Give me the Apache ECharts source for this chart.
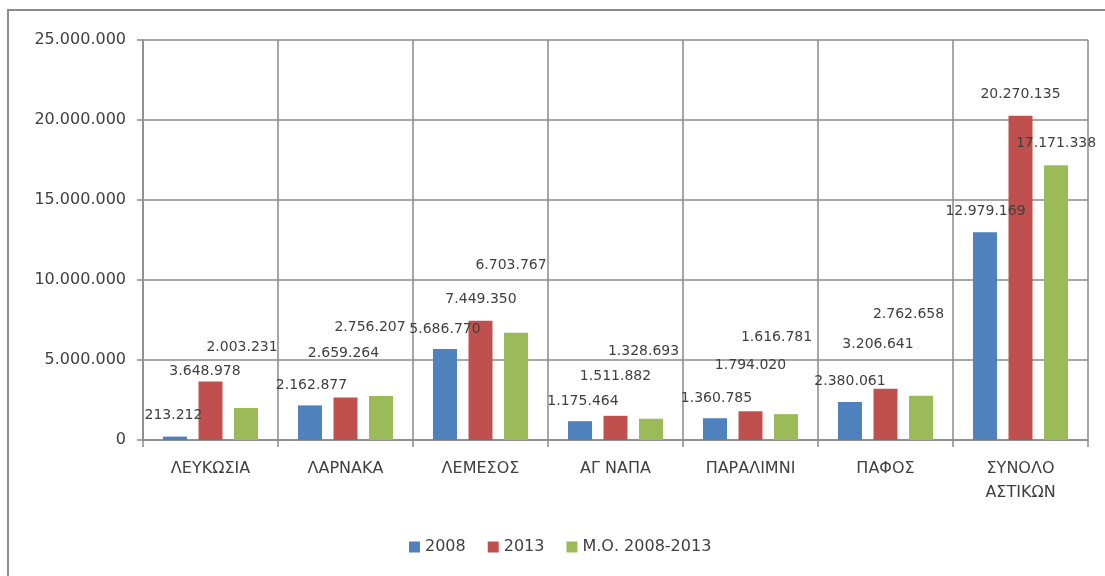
<!DOCTYPE html>
<html>
<head>
<meta charset="utf-8">
<script src="https://cdn.jsdelivr.net/npm/echarts@6/dist/echarts.min.js"></script>
<style>
html,body{margin:0;padding:0;background:#fff;}
#chart{width:1105px;height:576px;}
</style>
</head>
<body>
<div id="chart"></div>
<script>
var categories = ['ΛΕΥΚΩΣΙΑ', 'ΛΑΡΝΑΚΑ', 'ΛΕΜΕΣΟΣ', 'ΑΓ ΝΑΠΑ', 'ΠΑΡΑΛΙΜΝΙ', 'ΠΑΦΟΣ', 'ΣΥΝΟΛΟ\nΑΣΤΙΚΩΝ'];
var seriesNames = ['2008', '2013', 'Μ.Ο. 2008-2013'];
var values2008 = [213212, 2162877, 5686770, 1175464, 1360785, 2380061, 12979169];
var values2013 = [3648978, 2659264, 7449350, 1511882, 1794020, 3206641, 20270135];
var valuesAvg = [2003231, 2756207, 6703767, 1328693, 1616781, 2762658, 17171338];
var yTicks = [0, 5000000, 10000000, 15000000, 20000000, 25000000];

// label placement (style only): offsets of each data label from its bar top
var labelOffsets2008 = [[-1.5,-21],[1.5,-20],[0,-20],[3,-19.5],[1.5,-20],[0,-21],[0.5,-20.6]];
var labelOffsets2013 = [[-5.5,-10],[-2,-44],[0.5,-21],[0,-39],[0,-46],[-7.5,-44],[0,-21]];
var labelOffsetsAvg = [[-4,-61],[-11,-69],[-5,-67],[-7.5,-67],[-9.5,-77],[-12.5,-81.5],[0,-22]];

function fmt(v){
  return String(Math.round(v)).replace(/\B(?=(\d{3})+(?!\d))/g, '.');
}

var FONT = 'DejaVu Sans';
var TXT = '#404040';
var GRID = '#8a8a8a';

function makeSeries(name, vals, offs, color){
  return {
    name: name,
    type: 'bar',
    barWidth: 24,
    barGap: '48%',
    itemStyle: {color: color},
    data: vals.map(function(v, i){
      return {
        value: v,
        label: {offset: offs[i]}
      };
    }),
    label: {
      show: true,
      position: 'top',
      distance: 0,
      align: 'center',
      verticalAlign: 'middle',
      fontFamily: FONT,
      fontSize: 14,
      color: TXT,
      formatter: function(p){ return fmt(p.value); }
    }
  };
}

var chart = echarts.init(document.getElementById('chart'), null, {renderer: 'canvas'});
chart.setOption({
  animation: false,
  backgroundColor: '#fff',
  graphic: [{
    type: 'rect',
    shape: {x: 8, y: 10, width: 1120, height: 600},
    style: {fill: 'none', stroke: '#8c8c8c', lineWidth: 2},
    silent: true,
    z: -1
  }],
  grid: {left: 143, right: 17, top: 40, bottom: 136, containLabel: false},
  legend: {
    left: 404,
    top: 534,
    icon: 'rect',
    itemWidth: 11,
    itemHeight: 11,
    itemGap: 22,
    textStyle: {fontFamily: FONT, fontSize: 16, color: TXT},
    data: seriesNames
  },
  xAxis: {
    type: 'category',
    data: categories,
    boundaryGap: true,
    axisLine: {show: true, lineStyle: {color: GRID, width: 1.5}},
    axisTick: {show: true, length: 7, alignWithLabel: false, lineStyle: {color: GRID, width: 1.5}},
    splitLine: {show: true, lineStyle: {color: GRID, width: 1.5}},
    axisLabel: {
      interval: 0,
      margin: 17,
      lineHeight: 24,
      fontFamily: FONT,
      fontSize: 16,
      color: TXT
    }
  },
  yAxis: {
    type: 'value',
    min: yTicks[0],
    max: yTicks[yTicks.length - 1],
    interval: yTicks[1] - yTicks[0],
    axisLine: {show: true, lineStyle: {color: GRID, width: 1.5}},
    axisTick: {show: true, length: 6, lineStyle: {color: GRID, width: 1.5}},
    splitLine: {show: true, lineStyle: {color: GRID, width: 1.5}},
    axisLabel: {
      margin: 17,
      fontFamily: FONT,
      fontSize: 16,
      color: TXT,
      formatter: function(v){ return fmt(v); }
    }
  },
  series: [
    makeSeries(seriesNames[0], values2008, labelOffsets2008, '#4F81BD'),
    makeSeries(seriesNames[1], values2013, labelOffsets2013, '#C0504D'),
    makeSeries(seriesNames[2], valuesAvg, labelOffsetsAvg, '#9BBB59')
  ]
});
</script>
</body>
</html>
